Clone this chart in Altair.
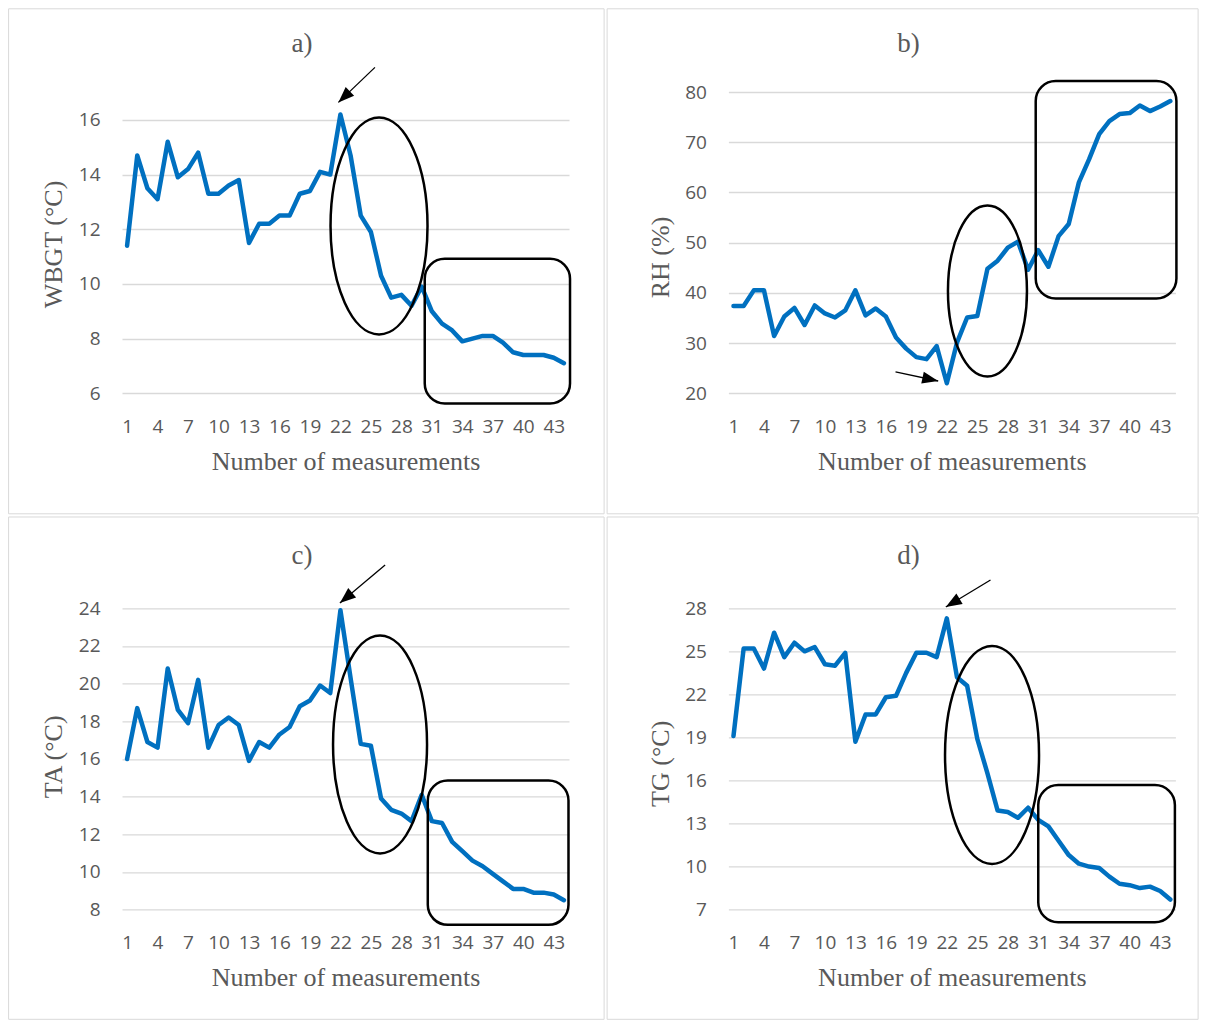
import altair as alt
import pandas as pd

# ---------------- data ----------------
measurements = list(range(1, 45))
x_ticks = list(range(1, 44, 3))

wbgt = [11.4, 14.7, 13.5, 13.1, 15.2, 13.9, 14.2, 14.8, 13.3, 13.3,
        13.6, 13.8, 11.5, 12.2, 12.2, 12.5, 12.5, 13.3, 13.4, 14.1,
        14.0, 16.2, 14.7, 12.5, 11.9, 10.3, 9.5, 9.6, 9.2, 9.9,
        9.0, 8.55, 8.3, 7.9, 8.0, 8.1, 8.1, 7.85, 7.5, 7.4,
        7.4, 7.4, 7.3, 7.1]
rh = [37.4, 37.4, 40.5, 40.5, 31.4, 35.3, 37.0, 33.6, 37.5, 35.9,
      35.1, 36.5, 40.5, 35.5, 36.9, 35.3, 31.1, 28.9, 27.2, 26.8,
      29.4, 22.0, 30.1, 35.1, 35.4, 44.8, 46.4, 49.0, 50.2, 44.6,
      48.5, 45.2, 51.3, 53.7, 62.0, 66.6, 71.6, 74.2, 75.6, 75.8,
      77.3, 76.2, 77.1, 78.2]
ta = [16.0, 18.7, 16.9, 16.6, 20.8, 18.6, 17.9, 20.2, 16.6, 17.8,
      18.2, 17.8, 15.9, 16.9, 16.6, 17.3, 17.7, 18.8, 19.1, 19.9,
      19.5, 23.9, 20.3, 16.8, 16.7, 13.9, 13.3, 13.1, 12.7, 14.1,
      12.7, 12.6, 11.6, 11.1, 10.6, 10.3, 9.9, 9.5, 9.1, 9.1,
      8.9, 8.9, 8.8, 8.5]
tg = [19.1, 25.2, 25.2, 23.8, 26.3, 24.6, 25.6, 25.0, 25.3, 24.1,
      24.0, 24.9, 18.7, 20.6, 20.6, 21.8, 21.9, 23.5, 24.9, 24.9,
      24.6, 27.3, 23.2, 22.6, 18.9, 16.5, 13.9, 13.8, 13.4, 14.1,
      13.25, 12.8, 11.8, 10.8, 10.2, 10.0, 9.9, 9.3, 8.8, 8.7,
      8.5, 8.6, 8.3, 7.7]

panel_letters = ["a)", "b)", "c)", "d)"]
y_titles = ["WBGT (°C)", "RH (%)", "TA (°C)", "TG (°C)"]
y_domains = [[6, 17.02], [20, 80], [8, 24], [7, 28]]
y_tick_values = [[6, 8, 10, 12, 14, 16],
                 [20, 30, 40, 50, 60, 70, 80],
                 [8, 10, 12, 14, 16, 18, 20, 22, 24],
                 [7, 10, 13, 16, 19, 22, 25, 28]]

# annotation shapes in data units: rounded boxes (x1, x2, y_low, y_high)
boxes = [(30.3, 44.6, 5.63, 10.92),
         (30.75, 44.6, 38.86, 82.19),
         (30.6, 44.45, 7.19, 14.85),
         (31.0, 44.45, 6.12, 15.69)]
# ellipses: centre (x, y) in data units, width/height in pixels
ellipses = [(25.8, 12.12, 97, 217),
            (26.0, 40.37, 79, 171),
            (25.9, 16.77, 94, 218),
            (26.45, 17.78, 94, 218)]
# arrows: tail (x, y) -> tip (x, y), head angle
arrows = [(25.4, 17.92, 21.8, 16.64, 226),
          (16.95, 24.25, 21.15, 22.45, 102),
          (26.4, 26.3, 21.95, 24.28, 230),
          (26.3, 29.97, 21.9, 28.09, 239)]

W, H = 447, 301.3
SERIF = "Liberation Serif"
SANS = "Open Sans"
GREY = "#595959"

# panel frame offsets relative to plot area (left, right, top, bottom)
frames = [(-113.4, 482.1, -83.2, 421.8),
          (-121.3, 469.7, -83.2, 421.8),
          (-113.4, 482.1, -91.3, 411.0),
          (-121.3, 469.7, -91.3, 411.0)]
title_ys = [-39.7, -39.7, -44.8, -44.8]
ytitle_ys = [152, 165, 148, 155]


def ellipse_path(w, h):
    rx = w / h
    ry = 1.0
    k = 0.5523
    f = lambda v: f"{v:.4f}"
    return (f"M {f(rx)} 0 "
            f"C {f(rx)} {f(k*ry)} {f(k*rx)} {f(ry)} 0 {f(ry)} "
            f"C {f(-k*rx)} {f(ry)} {f(-rx)} {f(k*ry)} {f(-rx)} 0 "
            f"C {f(-rx)} {f(-k*ry)} {f(-k*rx)} {f(-ry)} 0 {f(-ry)} "
            f"C {f(k*rx)} {f(-ry)} {f(rx)} {f(-k*ry)} {f(rx)} 0 Z")


HEAD = "M 0 0 L -0.38 1 L 0.38 1 Z"


def panel(i, values):
    xs = alt.Scale(domain=[0.5, 44.5], nice=False, zero=False)
    ys = alt.Scale(domain=y_domains[i], nice=False, zero=False)
    xax = alt.Axis(
        values=x_ticks, format="d", grid=False, domain=False, ticks=False, tickSize=0,
        labelPadding=33, labelBaseline="middle", labelFlush=False, labelOverlap=False,
        title="Number of measurements", titleX=W / 2, titleY=76,
        titleBaseline="alphabetic", titleAlign="center")
    yax = alt.Axis(
        values=y_tick_values[i], format="d", grid=True, gridColor="#d9d9d9", gridWidth=1.3,
        domain=False, ticks=False, tickSize=0, labelPadding=22,
        title=y_titles[i], titleX=-60.3, titleY=ytitle_ys[i], titleAngle=270,
        titleBaseline="alphabetic", titleAlign="center")

    def X(field):
        return alt.X(field, type="quantitative", scale=xs, axis=xax, title="Number of measurements")

    def Y(field):
        return alt.Y(field, type="quantitative", scale=ys, axis=yax, title=y_titles[i])

    df = pd.DataFrame({"n": measurements, "v": values})

    fl, fr, ft, fb = frames[i]
    frame = alt.Chart(alt.Data(values=[{}])).mark_rect(
        fillOpacity=0, stroke="#d9d9d9", strokeWidth=1
    ).encode(x=alt.value(fl), x2=alt.value(fr), y=alt.value(ft), y2=alt.value(fb))

    line = alt.Chart(df).mark_line(
        color="#0070C0", strokeWidth=4.5, strokeJoin="round", strokeCap="round"
    ).encode(x=X("n"), y=Y("v"))

    x1, x2, y1, y2 = boxes[i]
    box = alt.Chart(pd.DataFrame({"x1": [x1], "x2": [x2], "y1": [y1], "y2": [y2]})).mark_rect(
        fillOpacity=0, stroke="black", strokeWidth=2.5, cornerRadius=20
    ).encode(x=X("x1"), x2="x2:Q", y=Y("y1"), y2="y2:Q")

    ex, ey, ew, eh = ellipses[i]
    ell = alt.Chart(pd.DataFrame({"x": [ex], "y": [ey]})).mark_point(
        shape=ellipse_path(ew, eh), size=eh * eh, filled=False,
        color="black", strokeWidth=2.5, opacity=1
    ).encode(x=X("x"), y=Y("y"))

    tx, ty, hx, hy, ang = arrows[i]
    adf = pd.DataFrame({"tx": [tx], "ty": [ty], "hx": [hx], "hy": [hy]})
    shaft = alt.Chart(adf).mark_rule(color="black", strokeWidth=1.3).encode(
        x=X("tx"), x2="hx:Q", y=Y("ty"), y2="hy:Q")
    head = alt.Chart(adf).mark_point(
        shape=HEAD, size=1024, filled=True, color="black", opacity=1, angle=ang
    ).encode(x=X("hx"), y=Y("hy"))

    title = alt.Chart(alt.Data(values=[{}])).mark_text(
        text=panel_letters[i], font=SERIF, fontSize=27, color=GREY,
        align="center", baseline="alphabetic"
    ).encode(x=alt.value(180), y=alt.value(title_ys[i]))

    return alt.layer(frame, line, ell, box, shaft, head, title).properties(width=W, height=H)


panels = [panel(0, wbgt), panel(1, rh), panel(2, ta), panel(3, tg)]

chart = alt.concat(
    *panels, columns=2, spacing={"row": 214.3, "column": 159.4}, bounds="flush"
).properties(
    padding=0
).configure_view(
    strokeWidth=0
).configure_axis(
    labelFont=SANS, labelFontSize=19, labelColor=GREY,
    titleFont=SERIF, titleFontSize=26, titleFontWeight="normal", titleColor=GREY,
)

chart.save("out.html", embed_options={"renderer": "svg", "actions": False})
